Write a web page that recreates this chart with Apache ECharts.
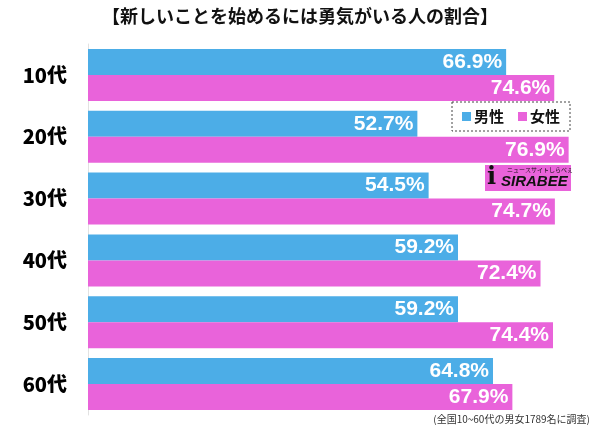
<!DOCTYPE html>
<html><head><meta charset="utf-8">
<script src="https://cdn.jsdelivr.net/npm/echarts@6/dist/echarts.min.js"></script>
<style>html,body{margin:0;padding:0;background:#fff}#c{width:600px;height:433px}</style>
</head><body><div id="c"></div>
<script>
const categories = ['10代','20代','30代','40代','50代','60代'];
const male = [66.9, 52.7, 54.5, 59.2, 59.2, 64.8];
const female = [74.6, 76.9, 74.7, 72.4, 74.4, 67.9];
const seriesNames = ['男性','女性'];
const titleText = '【新しいことを始めるには勇気がいる人の割合】';
const noteText = '(全国10~60代の男女1789名に調査)';

const chart = echarts.init(document.getElementById('c'), null, {renderer:'canvas'});
const valLabel = {
  show: true, position: 'insideRight', distance: 4,
  color: '#fff', fontSize: 21, fontWeight: 'bold',
  fontFamily: 'Liberation Sans, Arial, sans-serif',
  formatter: p => p.value.toFixed(1) + '%'
};
chart.setOption({
  animation: false,
  title: {
    text: titleText, left: 'center', top: 2,
    textStyle: {fontSize: 18, fontWeight: 'bold', color: '#111', fontFamily: 'Noto Sans CJK JP'}
  },
  legend: {
    data: seriesNames, left: 452, top: 102, width: 119, height: 31,
    orient: 'horizontal', icon: 'rect', itemWidth: 9, itemHeight: 9, itemGap: 14,
    padding: [7, 10, 7, 10],
    borderColor: '#444', borderWidth: 1, borderType: [2, 2],
    backgroundColor: '#fff',
    textStyle: {fontSize: 15, fontWeight: 'bold', color: '#111', fontFamily: 'Noto Sans CJK JP', padding:[0,0,0,-2]}
  },
  grid: {left: 88, right: 12, top: 44, bottom: 18, containLabel: false},
  xAxis: {
    type: 'value', min: 0, max: 80, show: false
  },
  yAxis: {
    type: 'category', data: categories, inverse: true,
    axisLine: {show: true, lineStyle: {color: '#e2e2e2', width: 1}},
    axisTick: {show: false},
    axisLabel: {margin: 21, fontSize: 20, fontWeight: 900, color: '#000', fontFamily: 'Noto Sans CJK JP'}
  },
  series: [
    {name: seriesNames[0], type: 'bar', data: male, barGap: '0%', barCategoryGap: '16%',
     itemStyle: {color: '#4cade7'}, label: valLabel, z: 2},
    {name: seriesNames[1], type: 'bar', data: female, barGap: '0%', barCategoryGap: '16%',
     itemStyle: {color: '#e963da'}, label: valLabel, z: 2}
  ],
  graphic: [
    {type: 'group', left: 485, top: 165, z: 10, children: [
      {type: 'rect', shape: {x: 0, y: 0, width: 86, height: 26}, style: {fill: '#e963da'}},
      {type: 'text', x: 22, y: 2, style: {text: 'ニュースサイトしらべぇ', fontSize: 6, fill: '#111', fontFamily: 'Noto Sans CJK JP'}},
      {type: 'text', x: 2, y: 1, style: {text: 'i', fontSize: 24, fontWeight: 'bold', fill: '#111', fontFamily: 'DejaVu Serif'}},
      {type: 'text', x: 16, y: 9, style: {text: 'SIRABEE', fontSize: 15, fontWeight: 'bold', fontStyle: 'italic', fill: '#111', fontFamily: 'Liberation Sans'}}
    ]},
    {type: 'text', right: 10, top: 414, style: {text: noteText, fontSize: 10, fill: '#333', fontFamily: 'Noto Sans CJK JP'}}
  ]
});
</script></body></html>
